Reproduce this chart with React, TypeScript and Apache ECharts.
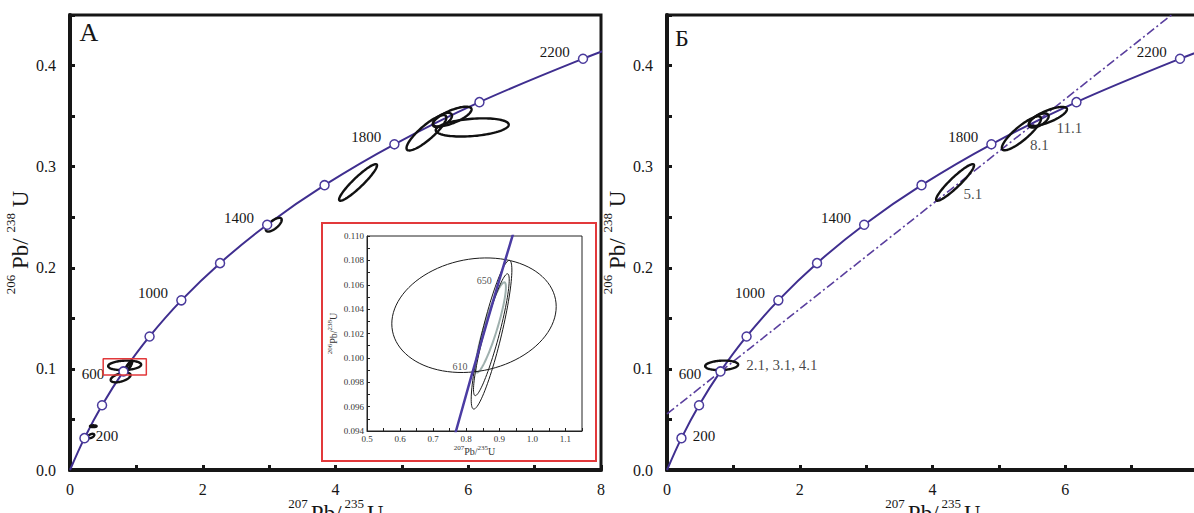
import React, { useEffect, useRef } from 'react';
import * as echarts from 'echarts';

const FONT = 'Liberation Serif, Times New Roman, serif';
const INK = '#161616';
const CURVE = '#3f2e8f';
const CURVE_INSET = '#4b3ca3';
const DISC = '#5a3f9e';

// Concordia points (age, Ma)
const concordiaAges = [0, 200, 400, 600, 800, 1000, 1200, 1400, 1600, 1800, 2000, 2200, 2300];
const concordiaX = [0, 0.2177, 0.4828, 0.8056, 1.1987, 1.6774, 2.2604, 2.9704, 3.8347, 4.8871, 6.1685, 7.729, 8.633];
const concordiaY = [0, 0.0315, 0.064, 0.0975, 0.1321, 0.1678, 0.2046, 0.2426, 0.2817, 0.3221, 0.3638, 0.4067, 0.4288];
const labeledAges = [200, 600, 1000, 1400, 1800, 2200];

// Inset concordia segment
const insetAges = [570, 600, 610, 650, 680];
const insetX = [0.7531, 0.8056, 0.8235, 0.8968, 0.9536];
const insetY = [0.09245, 0.09754, 0.09925, 0.10609, 0.11125];
const insetLabeledAges = [610, 650];
const insetXRange = [0.5, 1.15];
const insetYRange = [0.094, 0.11];

// Error ellipses: [x, y, halfWidthX, halfWidthY, rho]
const ellipsesA = [
  [0.316, 0.0336, 0.05, 0.0022, 0.5],
  [0.351, 0.0433, 0.05, 0.0009, 0.0],
  [0.8235, 0.1035, 0.2485, 0.0047, 0.15],
  [0.8765, 0.1019, 0.0615, 0.0061, 0.87],
  [0.876, 0.1019, 0.054, 0.005, 0.9],
  [0.763, 0.0915, 0.15, 0.0048, 0.5],
  [3.07, 0.2426, 0.12, 0.0068, 0.7],
  [4.34, 0.2844, 0.286, 0.0181, 0.93],
  [5.37, 0.3335, 0.3, 0.0175, 0.86],
  [5.76, 0.3495, 0.29, 0.0098, 0.72],
  [5.61, 0.3462, 0.145, 0.007, 0.6],
  [6.06, 0.3388, 0.55, 0.009, 0.3],
];
const ellipsesB = [
  [0.8235, 0.1035, 0.2485, 0.0047, 0.15],
  [4.34, 0.2844, 0.286, 0.0181, 0.93],
  [5.34, 0.333, 0.295, 0.0168, 0.86],
  [5.74, 0.3497, 0.286, 0.0094, 0.75],
  [5.6, 0.3457, 0.15, 0.007, 0.6],
];
const sampleNamesB = ['2.1, 3.1, 4.1', '5.1', '8.1', '11.1'];
const insetEllipsesBlack = [
  [0.8235, 0.1035, 0.2485, 0.0047, 0.15],
  [0.8765, 0.1019, 0.0615, 0.0061, 0.87],
  [0.876, 0.1019, 0.054, 0.005, 0.9],
];
const insetEllipsesGray = [[0.874, 0.1025, 0.046, 0.0037, 0.89]];

// Discordia (panel Б)
const discordiaX = [0, 7.6];
const discordiaY = [0.0555, 0.45];

// x-axis title pieces: [text, isSuperscript]
const xTitlePieces: [string, boolean][] = [['207', true], ['Pb/', false], ['235', true], ['U', false]];

function ellipseRender(color: string, width: number) {
  return (params: any, api: any) => {
    const cx = api.value(0), cy = api.value(1), sx = api.value(2), sy = api.value(3), r = api.value(4);
    const k = Math.sqrt(1 - r * r);
    const pts: number[][] = [];
    const n = 96;
    for (let i = 0; i < n; i++) {
      const t = (i / n) * Math.PI * 2;
      pts.push(api.coord([cx + sx * Math.cos(t), cy + sy * (r * Math.cos(t) + k * Math.sin(t))]));
    }
    return { type: 'polygon', shape: { points: pts }, style: { fill: 'none', stroke: color, lineWidth: width } };
  };
}

const richY = {
  s: { fontSize: 13, fontFamily: FONT, color: INK, verticalAlign: 'top', lineHeight: 13 },
  m: { fontSize: 23, fontFamily: FONT, color: INK, lineHeight: 34 },
};
const richInset = {
  s: { fontSize: 7, fontFamily: FONT, color: '#333', verticalAlign: 'top', lineHeight: 7 },
  m: { fontSize: 10, fontFamily: FONT, color: '#333', lineHeight: 14 },
};

const isMult = (v: number, step: number) => Math.abs(v / step - Math.round(v / step)) < 1e-6;

let measureCtx: CanvasRenderingContext2D | null = null;
function textWidth(text: string, size: number) {
  if (!measureCtx) measureCtx = document.createElement('canvas').getContext('2d');
  if (!measureCtx) return text.length * size * 0.5;
  measureCtx.font = `${size}px ${FONT}`;
  return measureCtx.measureText(text).width;
}

function xTitleGraphics(centerX: number) {
  const supSize = 13, mainSize = 23, gap = 3;
  const widths = xTitlePieces.map(([t, sup]) => textWidth(t, sup ? supSize : mainSize));
  const total = widths.reduce((a, b) => a + b, 0) + gap * (xTitlePieces.length - 1);
  let x = centerX - total / 2;
  return xTitlePieces.map(([t, sup], i) => {
    const el = {
      type: 'text', x, y: sup ? 503 : 513, z: 30, silent: true,
      style: {
        text: t, font: `${sup ? supSize : mainSize}px ${FONT}`, fill: INK, align: 'left', verticalAlign: 'middle',
      },
    };
    x += widths[i] + gap;
    return el;
  });
}

function mainX(gridIndex: number, showMax: boolean) {
  return {
    gridIndex, type: 'value', min: 0, max: 8, interval: 1,
    axisLine: { show: true, onZero: false, lineStyle: { color: INK, width: 4 } },
    axisTick: { show: true, inside: true, length: 5, lineStyle: { color: INK, width: 3 } },
    splitLine: { show: false },
    axisLabel: {
      interval: 0, margin: 11, fontSize: 16, color: INK, fontFamily: FONT, showMaxLabel: showMax,
      formatter: (v: number) => (isMult(v, 2) ? String(Math.round(v)) : ''),
    },
  };
}
function mainY(gridIndex: number) {
  return {
    gridIndex, type: 'value', min: 0, max: 0.45, interval: 0.05,
    axisLine: { show: true, onZero: false, lineStyle: { color: INK, width: 4 } },
    axisTick: { show: true, inside: true, length: 5, lineStyle: { color: INK, width: 3 } },
    splitLine: { show: false },
    axisLabel: {
      interval: 0, margin: 14, fontSize: 16, color: INK, fontFamily: FONT,
      formatter: (v: number) => (isMult(v, 0.1) ? v.toFixed(1) : ''),
    },
    name: '{s|206}{m| Pb/ }{s|238}{m| U}', nameLocation: 'middle', nameGap: 27,
    nameTextStyle: { fontFamily: FONT, rich: richY },
  };
}

function concordiaPairs() {
  return concordiaX.map((x, i) => [x, concordiaY[i]]);
}
function markerItems() {
  const items: any[] = [];
  concordiaAges.forEach((age, i) => {
    if (age < 200 || age > 2200) return;
    let label: any = { show: false };
    if (labeledAges.includes(age)) {
      if (age === 200) label = { show: true, position: 'right', distance: 6, offset: [0, -2] };
      else if (age === 600) label = { show: true, position: 'left', distance: 14, offset: [0, 3] };
      else label = { show: true, position: 'left', distance: 8, offset: [0, -7] };
    }
    items.push({ name: String(age), value: [concordiaX[i], concordiaY[i]], label });
  });
  return items;
}

function panelSeries(idx: number, ellipses: number[][]) {
  return [
    {
      type: 'line', xAxisIndex: idx, yAxisIndex: idx, data: concordiaPairs(), smooth: 0.35,
      symbol: 'none', lineStyle: { color: CURVE, width: 2 }, clip: true, z: 2, silent: true,
    },
    {
      type: 'custom', xAxisIndex: idx, yAxisIndex: idx, data: ellipses, encode: { x: 0, y: 1 },
      renderItem: ellipseRender('#111', 2.4), clip: true, z: 3, silent: true,
    },
    {
      type: 'scatter', xAxisIndex: idx, yAxisIndex: idx, data: markerItems(), symbol: 'circle', symbolSize: 9,
      itemStyle: { color: '#fff', borderColor: '#4a3a9c', borderWidth: 1.5, opacity: 1 },
      label: { formatter: '{b}', fontSize: 15, fontFamily: FONT, color: INK },
      z: 4, silent: true,
    },
  ];
}

function buildOption() {
  const redBox = [
    [insetXRange[0], insetYRange[0]], [insetXRange[1], insetYRange[0]],
    [insetXRange[1], insetYRange[1]], [insetXRange[0], insetYRange[1]], [insetXRange[0], insetYRange[0]],
  ];
  const sampleItems = sampleNamesB.map((name, i) => ({
    name, value: [ellipsesB[i][0], ellipsesB[i][1]],
    label: { show: true, position: i === 0 ? [25, 0] : [9, 12], align: 'left', verticalAlign: 'middle' },
  }));
  const insetLabelItems = insetAges
    .map((age, i) => ({ age, i }))
    .filter((d) => insetLabeledAges.includes(d.age))
    .map((d) => ({
      name: String(d.age), value: [insetX[d.i], insetY[d.i]],
      label: { show: true, position: 'left', distance: 6, offset: [0, d.age === 650 ? -3 : -1] },
    }));

  return {
    animation: false,
    backgroundColor: '#fff',
    textStyle: { fontFamily: FONT },
    grid: [
      { left: 70, top: 15, width: 531, height: 455, show: true, borderColor: INK, borderWidth: 3, backgroundColor: 'transparent', outerBoundsMode: 'none', containLabel: false },
      { left: 667, top: 15, width: 531, height: 455, show: true, borderColor: INK, borderWidth: 3, backgroundColor: 'transparent', outerBoundsMode: 'none', containLabel: false },
      { left: 367, top: 236, width: 215, height: 195, show: true, borderColor: '#222', borderWidth: 1, backgroundColor: '#fff', z: 21, outerBoundsMode: 'none', containLabel: false },
    ],
    xAxis: [
      mainX(0, true),
      mainX(1, false),
      {
        gridIndex: 2, type: 'value', min: insetXRange[0], max: insetXRange[1], interval: 0.05, z: 22,
        axisLine: { show: true, onZero: false, lineStyle: { color: '#222', width: 1 } },
        axisTick: { show: true, inside: true, length: 3, lineStyle: { color: '#222', width: 1 } },
        splitLine: { show: false },
        axisLabel: {
          interval: 0, margin: 3, fontSize: 9, color: '#333', fontFamily: FONT,
          formatter: (v: number) => (isMult(v, 0.1) ? v.toFixed(1) : ''),
        },
        name: '{s|207}{m|Pb/}{s|235}{m|U}', nameLocation: 'middle', nameGap: 13,
        nameTextStyle: { fontFamily: FONT, rich: richInset },
      },
    ],
    yAxis: [
      mainY(0),
      mainY(1),
      {
        gridIndex: 2, type: 'value', min: insetYRange[0], max: insetYRange[1], interval: 0.001, z: 22,
        axisLine: { show: true, onZero: false, lineStyle: { color: '#222', width: 1 } },
        axisTick: { show: true, inside: true, length: 3, lineStyle: { color: '#222', width: 1 } },
        splitLine: { show: false },
        axisLabel: {
          interval: 0, margin: 3, fontSize: 9, color: '#333', fontFamily: FONT,
          formatter: (v: number) => (isMult(v, 0.002) ? v.toFixed(3) : ''),
        },
        name: '{s|206}{m|Pb/}{s|238}{m|U}', nameLocation: 'middle', nameGap: 27,
        nameTextStyle: { fontFamily: FONT, rich: richInset },
      },
    ],
    graphic: [
      {
        type: 'rect', z: 20, shape: { x: 322, y: 223, width: 274, height: 238 },
        style: { fill: '#fff', stroke: '#e2393b', lineWidth: 2 },
      },
      { type: 'text', x: 89, y: 32, z: 30, style: { text: 'А', font: `26px ${FONT}`, fill: INK, align: 'center', verticalAlign: 'middle' } },
      { type: 'text', x: 682, y: 38, z: 30, style: { text: 'Б', font: `24px ${FONT}`, fill: INK, align: 'center', verticalAlign: 'middle' } },
      ...xTitleGraphics(336),
      ...xTitleGraphics(933),
    ],
    series: [
      ...panelSeries(0, ellipsesA),
      {
        type: 'line', xAxisIndex: 0, yAxisIndex: 0, data: redBox, symbol: 'none',
        lineStyle: { color: '#e2393b', width: 1.5 }, z: 5, silent: true,
      },
      ...panelSeries(1, ellipsesB),
      {
        type: 'line', xAxisIndex: 1, yAxisIndex: 1, data: discordiaX.map((x, i) => [x, discordiaY[i]]),
        symbol: 'none', lineStyle: { color: DISC, width: 1.6, type: [9, 3, 2, 3] }, clip: true, z: 2, silent: true,
      },
      {
        type: 'scatter', xAxisIndex: 1, yAxisIndex: 1, data: sampleItems, symbolSize: 1,
        itemStyle: { color: 'transparent' },
        label: { formatter: '{b}', fontSize: 15, fontFamily: FONT, color: INK }, z: 5, silent: true,
      },
      // inset
      {
        type: 'custom', xAxisIndex: 2, yAxisIndex: 2, data: insetEllipsesGray, encode: { x: 0, y: 1 },
        renderItem: ellipseRender('#9fb0ae', 2), clip: true, z: 23, silent: true,
      },
      {
        type: 'custom', xAxisIndex: 2, yAxisIndex: 2, data: insetEllipsesBlack, encode: { x: 0, y: 1 },
        renderItem: ellipseRender('#1a1a1a', 1), clip: true, z: 23, silent: true,
      },
      {
        type: 'line', xAxisIndex: 2, yAxisIndex: 2, data: insetX.map((x, i) => [x, insetY[i]]), smooth: 0.3,
        symbol: 'none', lineStyle: { color: CURVE_INSET, width: 2.5 }, clip: true, z: 24, silent: true,
      },
      {
        type: 'scatter', xAxisIndex: 2, yAxisIndex: 2, data: insetLabelItems, symbolSize: 1,
        itemStyle: { color: 'transparent' },
        label: { formatter: '{b}', fontSize: 10, fontFamily: FONT, color: '#222' }, z: 25, silent: true,
      },
    ],
  };
}

export default function App() {
  const ref = useRef<HTMLDivElement>(null);
  useEffect(() => {
    const chart = echarts.init(ref.current as HTMLDivElement, null, { renderer: 'svg' });
    chart.setOption(buildOption() as any);
    return () => chart.dispose();
  }, []);
  return (
    <div
      ref={ref}
      style={{ position: 'absolute', left: 0, top: 0, width: 1194, height: 513, background: '#fff' }}
    />
  );
}
